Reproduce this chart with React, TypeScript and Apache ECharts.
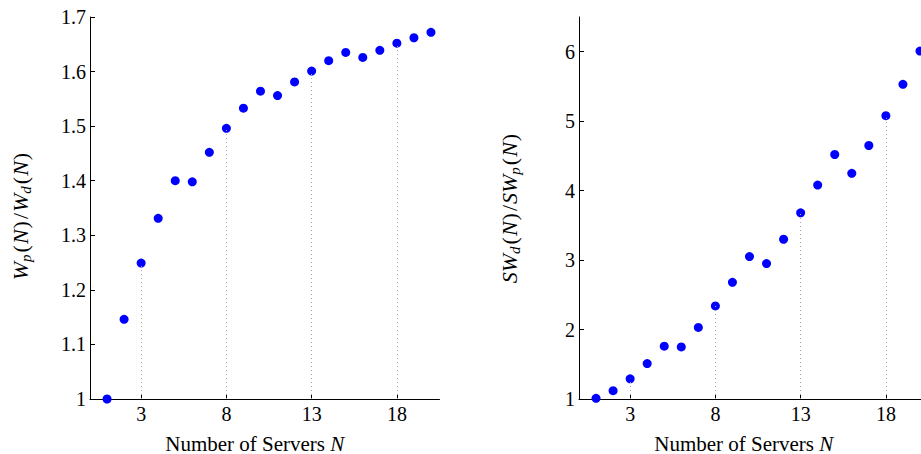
import React, { useEffect, useRef } from "react";
import * as echarts from "echarts";

// Number of servers N = 1..20
const servers = [1, 2, 3, 4, 5, 6, 7, 8, 9, 10, 11, 12, 13, 14, 15, 16, 17, 18, 19, 20];
// Ratio of waiting times W_p(N)/W_d(N)
const waitRatio = [
  1.0, 1.146, 1.249, 1.331, 1.4, 1.398, 1.452, 1.496, 1.533, 1.564,
  1.556, 1.581, 1.601, 1.62, 1.635, 1.626, 1.639, 1.652, 1.662, 1.672,
];
// Ratio of social welfare SW_d(N)/SW_p(N)
const welfareRatio = [
  1.01, 1.12, 1.29, 1.51, 1.76, 1.75, 2.03, 2.34, 2.68, 3.05,
  2.95, 3.3, 3.68, 4.08, 4.52, 4.25, 4.65, 5.08, 5.53, 6.01,
];
const xTicks = [3, 8, 13, 18];
const leftYTicks = [1, 1.1, 1.2, 1.3, 1.4, 1.5, 1.6, 1.7];
const rightYTicks = [1, 2, 3, 4, 5, 6];

const FONT = "'Liberation Serif', serif";
const FS = 20;
const BLUE = "#0000ff";

// math-style pieces of the axis titles: italic symbols, lowered subscripts
const xRich = {
  i: { fontStyle: "italic", fontSize: 21, fontFamily: FONT, color: "#000" },
};
const yRich = {
  i: { fontStyle: "italic", fontSize: 22, fontFamily: FONT, color: "#000" },
  u: { fontSize: 22, fontFamily: FONT, color: "#000", padding: [0, 1, 0, 1] },
  s: {
    fontStyle: "italic",
    fontSize: 15,
    fontFamily: FONT,
    color: "#000",
    padding: [10, 1, 0, 0],
  },
};

function stems(values: number[], base: number) {
  return xTicks.map((x) => [
    { coord: [x, base] },
    { coord: [x, values[servers.indexOf(x)]] },
  ]);
}

function xAxisCfg(gridIndex: number) {
  return {
    type: "value",
    gridIndex,
    min: 0,
    max: 20.5,
    name: "Number of Servers {i|N}",
    nameLocation: "middle",
    nameGap: 34,
    nameTextStyle: {
      fontFamily: FONT,
      fontSize: 21,
      color: "#000",
      padding: [0, 20, 0, 0],
      rich: xRich,
    },
    axisLine: { lineStyle: { color: "#000", width: 1 } },
    axisTick: { inside: true, length: 4, customValues: xTicks, lineStyle: { color: "#000" } },
    axisLabel: {
      customValues: xTicks,
      margin: 5,
      fontFamily: FONT,
      fontSize: FS,
      color: "#000",
    },
    splitLine: { show: false },
  };
}

function yAxisCfg(gridIndex: number, min: number, max: number, ticks: number[], name: string, pad: number[]) {
  return {
    type: "value",
    gridIndex,
    min,
    max,
    name,
    nameLocation: "middle",
    nameGap: 57,
    nameTextStyle: {
      fontFamily: FONT,
      fontSize: 22,
      color: "#000",
      padding: pad,
      rich: yRich,
    },
    axisLine: { show: true, lineStyle: { color: "#000", width: 1 } },
    axisTick: { show: true, inside: true, length: 5, customValues: ticks, lineStyle: { color: "#000" } },
    axisLabel: {
      customValues: ticks,
      margin: 4,
      fontFamily: FONT,
      fontSize: FS,
      color: "#000",
    },
    splitLine: { show: false },
  };
}

function scatterSeries(idx: number, values: number[], base: number) {
  return {
    type: "scatter",
    xAxisIndex: idx,
    yAxisIndex: idx,
    symbol: "circle",
    symbolSize: 9,
    itemStyle: { color: BLUE, opacity: 1 },
    data: servers.map((n, i) => [n, values[i]]),
    markLine: {
      silent: true,
      symbol: ["none", "none"],
      label: { show: false },
      lineStyle: { color: "#aaa", width: 1, type: [1, 3] },
      data: stems(values, base),
    },
    z: 3,
  };
}

export default function App() {
  const ref = useRef<HTMLDivElement>(null);

  useEffect(() => {
    if (!ref.current) return;
    const chart = echarts.init(ref.current, undefined, { renderer: "svg" });
    chart.setOption({
      animation: false,
      backgroundColor: "#fff",
      textStyle: { fontFamily: FONT },
      grid: [
        { left: 90, top: 17, right: 481.5, bottom: 55, outerBoundsMode: "none" },
        { left: 579, top: 17, right: -7.5, bottom: 55, outerBoundsMode: "none" },
      ],
      xAxis: [xAxisCfg(0), xAxisCfg(1)],
      yAxis: [
        yAxisCfg(
          0, 1, 1.7, leftYTicks,
          "{i|W}{s|p}{u|(}{i|N}{u|)}{u|/}{i|W}{s|d}{u|(}{i|N}{u|)}",
          [0, 16, 0, 0]
        ),
        yAxisCfg(
          1, 1, 6.5, rightYTicks,
          "{i|SW}{s|d}{u|(}{i|N}{u|)}{u|/}{i|SW}{s|p}{u|(}{i|N}{u|)}",
          [0, 0, 0, 0]
        ),
      ],
      series: [scatterSeries(0, waitRatio, 1), scatterSeries(1, welfareRatio, 1)],
    });
    return () => chart.dispose();
  }, []);

  return (
    <div
      ref={ref}
      style={{ position: "fixed", left: 0, top: 0, width: 921, height: 454, overflow: "hidden" }}
    />
  );
}
